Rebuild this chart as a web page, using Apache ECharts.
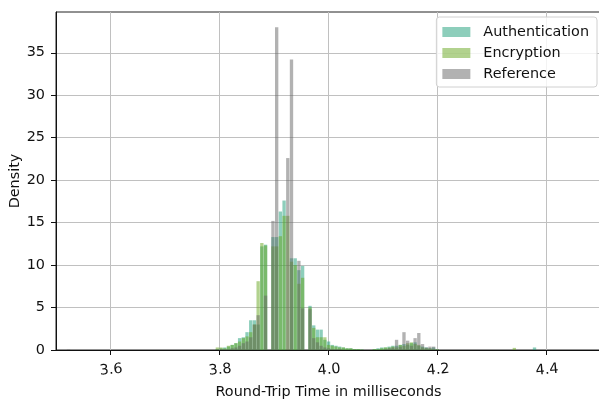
<!DOCTYPE html>
<html>
<head>
<meta charset="utf-8">
<script src="https://cdn.jsdelivr.net/npm/echarts@6/dist/echarts.min.js"></script>
<style>
  html, body { margin: 0; padding: 0; background: #fff; }
  #chart { width: 599px; height: 401px; }
</style>
</head>
<body>
<div id="chart"></div>
<script>
// histogram bins (density)
const binWidth = 0.0068;
const mainStart = 3.7927;
const bumpStart = 4.0807;

const seriesNames = ["Authentication", "Encryption", "Reference"];

const authMain = [0.1, 0.2, 0.3, 0.4, 0.6, 0.8, 1.4, 1.5, 2.1, 3.5,
  3.5, 3.0, 12.2, 12.4, 0, 13.3, 13.3, 16.3, 17.6, 0,
  10.8, 10.8, 9.4, 9.9, 0, 5.2, 2.9, 2.4, 2.4, 1.2,
  1.0, 0.6, 0.5, 0.4, 0.3, 0.2, 0.2, 0.1, 0.1, 0.05];
const encMain = [0.3, 0.3, 0.2, 0.5, 0.6, 0.8, 1.0, 1.4, 1.6, 2.1,
  3.0, 8.1, 12.6, 12.3, 0, 12.2, 12.2, 13.4, 15.8, 15.8,
  10.4, 10.0, 7.8, 8.5, 0, 5.0, 2.6, 1.5, 1.5, 1.5,
  0.6, 0.5, 0.4, 0.3, 0.3, 0.2, 0.2, 0.1, 0.1, 0.05];
const refMain = [0.1, 0.1, 0.1, 0.1, 0.2, 0.3, 0.5, 0.8, 1.0, 1.5,
  3.0, 4.1, 0, 6.4, 0, 15.2, 38.0, 0, 0, 22.6,
  34.2, 0, 10.5, 4.9, 0, 4.8, 1.4, 0.9, 0.5, 0.3,
  0.2, 0.1, 0.1, 0.1, 0, 0, 0, 0, 0, 0];

const authBump = [0.1, 0.2, 0.3, 0.3, 0.4, 0.5, 0.5, 0.6, 0.7, 0.6, 0.8, 0.9, 0.5, 0.4, 0.3, 0.2, 0.3, 0.1];
const encBump = [0.1, 0.1, 0.2, 0.3, 0.3, 0.4, 0.3, 0.6, 0.5, 0.8, 0.9, 0.7, 0.6, 0.3, 0.2, 0.2, 0.1, 0.1];
const refBump = [0, 0, 0, 0.1, 0.2, 0.3, 1.2, 0.4, 2.1, 1.1, 0.5, 1.4, 2.0, 0.7, 0.3, 0.4, 0.4, 0.1];

// isolated bins far out in the tail
const authTailX = [4.378];
const authTailY = [0.3];
const encTailX = [4.341];
const encTailY = [0.25];
const refTailX = [3.523];
const refTailY = [0.05];

const xTicks = [3.6, 3.8, 4.0, 4.2, 4.4];
const yTicks = [0, 5, 10, 15, 20, 25, 30, 35];

const colors = ["rgba(27,158,119,0.5)", "rgba(102,166,30,0.5)", "rgba(102,102,102,0.5)"];

function bins(start, values) {
  return values.map((v, i) => [start + (i + 0.5) * binWidth, v]);
}
function tail(xs, ys) {
  return xs.map((x, i) => [x, ys[i]]);
}

const seriesData = [
  bins(mainStart, authMain).concat(bins(bumpStart, authBump), tail(authTailX, authTailY)),
  bins(mainStart, encMain).concat(bins(bumpStart, encBump), tail(encTailX, encTailY)),
  bins(mainStart, refMain).concat(bins(bumpStart, refBump), tail(refTailX, refTailY)),
];

function renderBar(params, api) {
  const x = api.value(0);
  const y = api.value(1);
  if (!y) return null;
  const half = binWidth * 0.45;
  const p0 = api.coord([x - half, y]);
  const p1 = api.coord([x + half, 0]);
  return {
    type: "rect",
    shape: { x: p0[0], y: p0[1], width: p1[0] - p0[0], height: p1[1] - p0[1] },
    style: { fill: colors[params.seriesIndex] },
  };
}

const font = "DejaVu Sans";
const fs = 14.4;
const chart = echarts.init(document.getElementById("chart"));

chart.setOption({
  animation: false,
  textStyle: { fontFamily: font },
  grid: {
    left: 56, right: -2, top: 12, bottom: 51,
    outerBoundsMode: "none",
    containLabel: false,
    show: true, borderColor: "#222", borderWidth: 1,
  },
  legend: {
    orient: "vertical",
    right: 2,
    top: 17,
    icon: "rect",
    itemWidth: 28,
    itemHeight: 10,
    itemGap: 7,
    padding: [8, 8, 6, 6],
    backgroundColor: "rgba(255,255,255,0.8)",
    borderColor: "#d0d0d0",
    borderWidth: 1,
    borderRadius: 3,
    textStyle: { fontFamily: font, fontSize: fs, color: "#111", padding: [0, 0, 0, 8] },
    data: seriesNames,
  },
  xAxis: {
    type: "value",
    min: 3.5,
    max: 4.5,
    name: "Round-Trip Time in milliseconds",
    nameLocation: "middle",
    nameGap: 35,
    nameTextStyle: { fontFamily: font, fontSize: fs, color: "#111" },
    axisLine: { show: true, onZero: false, lineStyle: { color: "#111", width: 1 } },
    axisTick: { show: true, length: 5, customValues: xTicks, lineStyle: { color: "#111" } },
    axisLabel: {
      customValues: xTicks,
      rotate: 5,
      align: "center",
      verticalAlign: "top",
      margin: 13,
      fontFamily: font,
      fontSize: fs,
      color: "#111",
      formatter: (v) => v.toFixed(1),
    },
    splitLine: { show: true, lineStyle: { color: "#c0c0c0", width: 1 } },
  },
  yAxis: {
    type: "value",
    min: 0,
    max: 39.8,
    name: "Density",
    nameLocation: "middle",
    nameGap: 34,
    nameMoveOverlap: false,
    nameTextStyle: { fontFamily: font, fontSize: fs, color: "#111" },
    axisLine: { show: true, lineStyle: { color: "#111", width: 1 } },
    axisTick: { show: true, length: 5, customValues: yTicks, lineStyle: { color: "#111" } },
    axisLabel: {
      customValues: yTicks,
      margin: 11,
      fontFamily: font,
      fontSize: fs,
      color: "#111",
    },
    splitLine: { show: true, lineStyle: { color: "#c0c0c0", width: 1 } },
  },
  series: seriesNames.map((name, i) => ({
    name,
    type: "custom",
    renderItem: renderBar,
    itemStyle: { color: colors[i] },
    encode: { x: 0, y: 1 },
    data: seriesData[i],
  })),
});
</script>
</body>
</html>
